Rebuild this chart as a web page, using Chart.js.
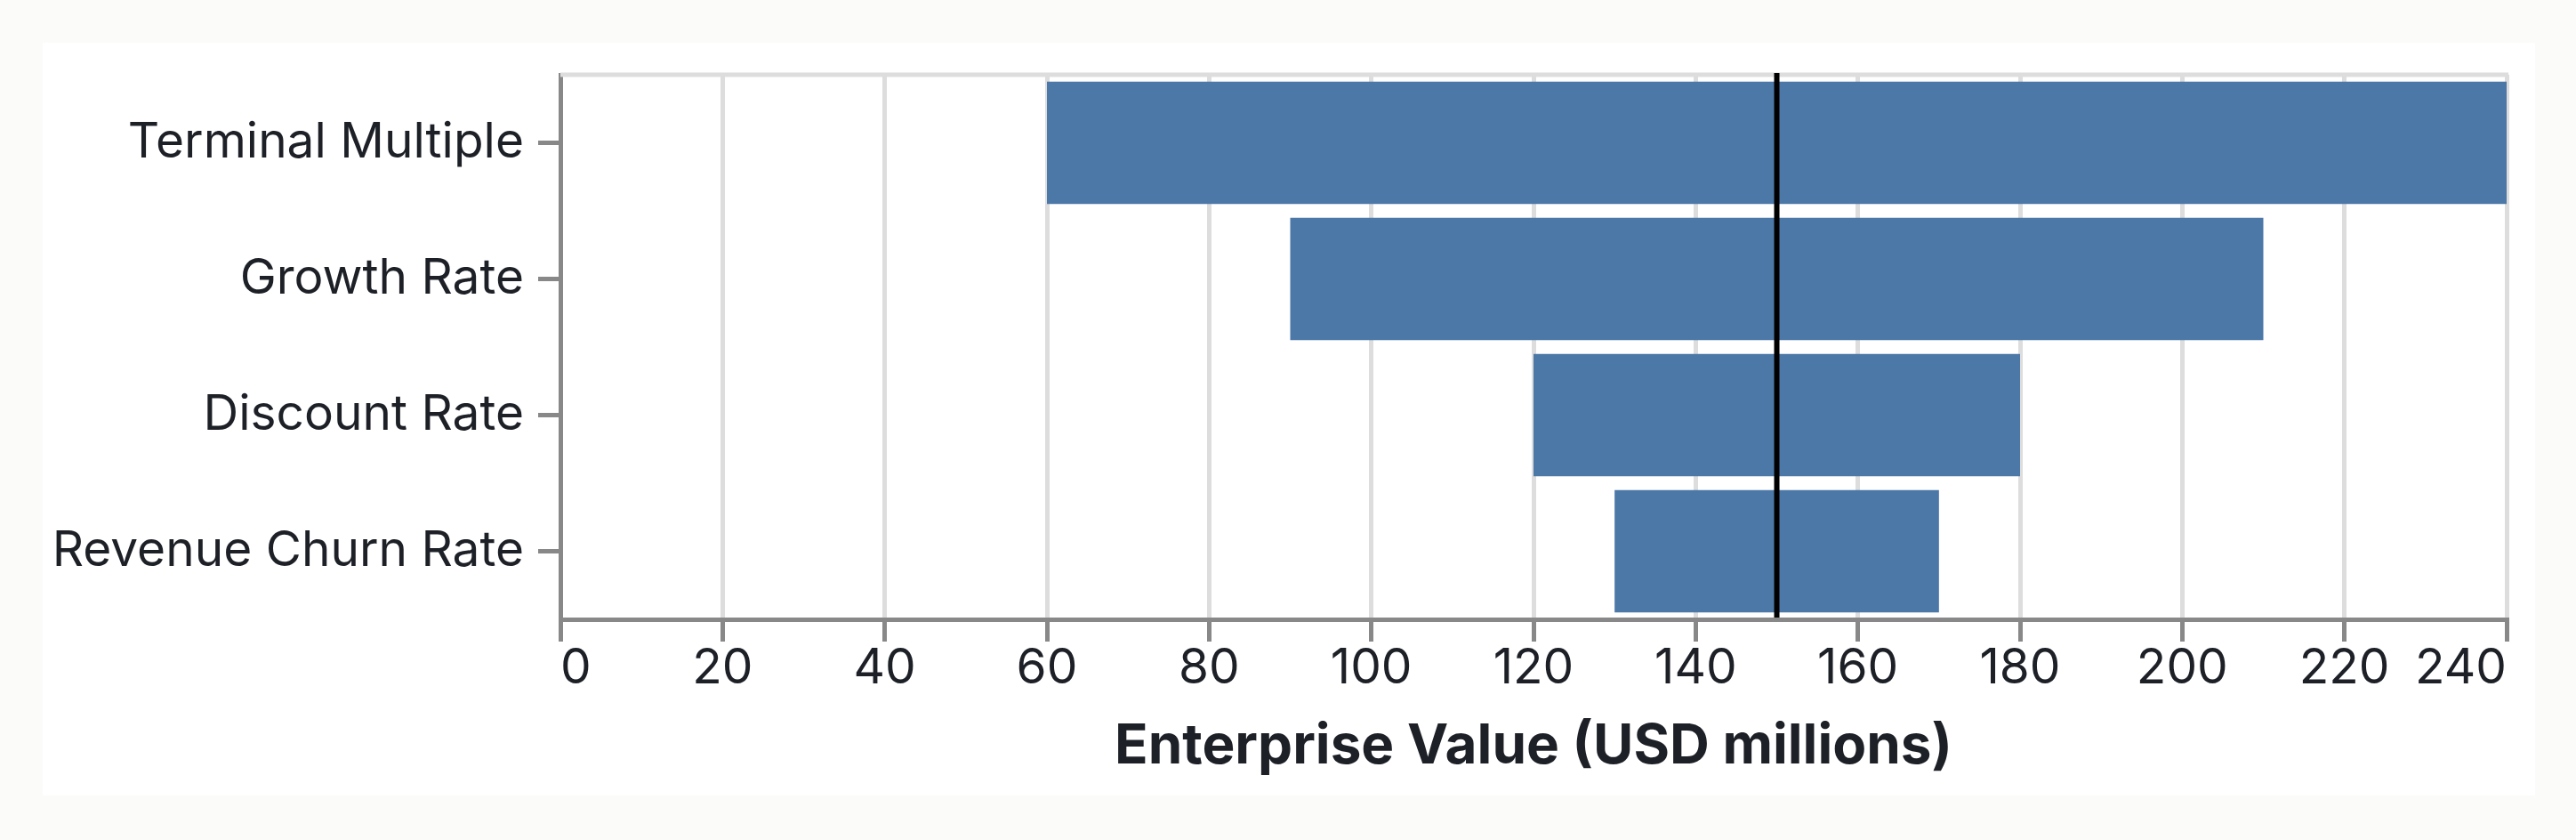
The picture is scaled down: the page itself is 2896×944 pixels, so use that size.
<!DOCTYPE html>
<html>
<head>
<meta charset="utf-8">
<script src="https://cdn.jsdelivr.net/npm/chart.js@4.4.0/dist/chart.umd.min.js"></script>
<style>
  html, body { margin: 0; padding: 0; background: #fbfbf9; }
  #card { position: absolute; left: 48px; top: 48px; width: 2802px; height: 846px; background: #ffffff; }
  #wrap { position: absolute; left: 0; top: 0; width: 2896px; height: 944px; }
</style>
</head>
<body>
<div id="card"></div>
<div id="wrap"><canvas id="tornadoChart"></canvas></div>
<script>
// sensitivity drivers, top to bottom
const drivers = ["Terminal Multiple", "Growth Rate", "Discount Rate", "Revenue Churn Rate"];
const lowValues = [60, 90, 120, 130];
const highValues = [240, 210, 180, 170];
const baseValue = 150;
const xMin = 0;
const xMax = 240;
const xStep = 20;
const xTitle = "Enterprise Value (USD millions)";

const textColor = "#1d2026";
const fontFamily = "Inter, 'Noto Sans', sans-serif";

const ranges = [];
for (let i = 0; i < drivers.length; i++) {
    ranges.push([lowValues[i], highValues[i]]);
}

// first/last x labels flush to the ends of the axis
const flushLabels = {
    id: "flushLabels",
    beforeDraw(chart) {
        const items = chart.scales.x.getLabelItems();
        if (!items.length) return;
        items[0].options.textAlign = "left";
        items[items.length - 1].options.textAlign = "right";
    }
};

// light frame on top of the plot + base case line
const frameAndBase = {
    id: "frameAndBase",
    beforeDatasetsDraw(chart) {
        const { ctx, chartArea } = chart;
        ctx.save();
        ctx.strokeStyle = "#dddddd";
        ctx.lineWidth = 5;
        ctx.beginPath();
        ctx.moveTo(chartArea.left, chartArea.top);
        ctx.lineTo(chartArea.right + 2, chartArea.top);
        ctx.stroke();
        ctx.restore();
    },
    afterDatasetsDraw(chart) {
        const { ctx, chartArea } = chart;
        const x = chart.scales.x.getPixelForValue(baseValue);
        ctx.save();
        ctx.strokeStyle = "#000000";
        ctx.lineWidth = 6;
        ctx.beginPath();
        ctx.moveTo(x, chartArea.top - 2);
        ctx.lineTo(x, chartArea.bottom - 2);
        ctx.stroke();
        ctx.restore();
    }
};

const el = document.getElementById("tornadoChart");

new Chart(el, {
    type: "bar",
    data: {
        labels: drivers,
        datasets: [{
            label: "Range",
            data: ranges,
            backgroundColor: "#4c78a8",
            borderWidth: 0,
            borderSkipped: false,
            barPercentage: 0.9,
            categoryPercentage: 1.0
        }]
    },
    options: {
        indexAxis: "y",
        responsive: true,
        maintainAspectRatio: false,
        animation: false,
        layout: { padding: { left: 48, top: 84, right: 78, bottom: 50 } },
        plugins: {
            legend: { display: false },
            tooltip: { enabled: false }
        },
        scales: {
            x: {
                type: "linear",
                min: xMin,
                max: xMax,
                afterFit: s => { s.height = 198; },
                ticks: {
                    stepSize: xStep,
                    autoSkip: false,
                    maxRotation: 0,
                    padding: -3,
                    color: textColor,
                    font: { family: fontFamily, size: 55 }
                },
                grid: {
                    color: "#dddddd",
                    lineWidth: 5,
                    tickColor: "#888888",
                    tickLength: 25,
                    tickWidth: 5
                },
                border: { color: "#888888", width: 5 },
                title: {
                    display: true,
                    text: xTitle,
                    color: textColor,
                    font: { family: fontFamily, size: 62, weight: "bold" },
                    padding: { top: 0, bottom: 17 }
                }
            },
            y: {
                afterFit: s => { s.width = 582; },
                ticks: {
                    padding: 16,
                    color: textColor,
                    font: { family: fontFamily, size: 55 }
                },
                grid: {
                    offset: false,
                    drawOnChartArea: false,
                    tickColor: "#888888",
                    tickLength: 25,
                    tickWidth: 5
                },
                border: { color: "#888888", width: 5 }
            }
        }
    },
    plugins: [flushLabels, frameAndBase]
});
</script>
</body>
</html>
